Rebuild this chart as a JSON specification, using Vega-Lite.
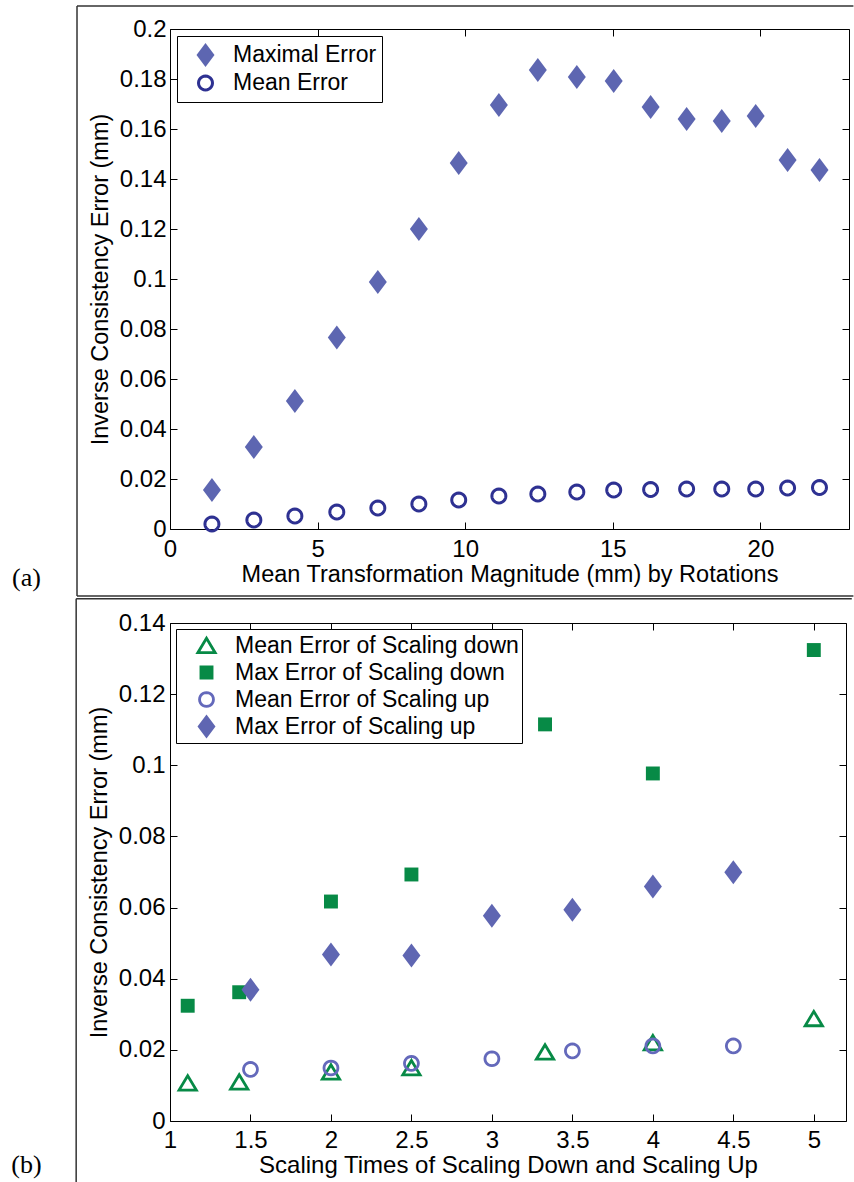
{
  "$schema": "https://vega.github.io/schema/vega-lite/v6.json",
  "padding": {"left": 10, "top": 4, "right": 0, "bottom": 0},
  "background": "white",
  "datasets": {
    "a": [
      {"x": 1.42, "y": 0.0156, "series": "Maximal Error"},
      {"x": 2.84, "y": 0.0328, "series": "Maximal Error"},
      {"x": 4.23, "y": 0.0512, "series": "Maximal Error"},
      {"x": 5.65, "y": 0.0766, "series": "Maximal Error"},
      {"x": 7.04, "y": 0.0988, "series": "Maximal Error"},
      {"x": 8.43, "y": 0.1200, "series": "Maximal Error"},
      {"x": 9.78, "y": 0.1464, "series": "Maximal Error"},
      {"x": 11.14, "y": 0.1696, "series": "Maximal Error"},
      {"x": 12.46, "y": 0.1836, "series": "Maximal Error"},
      {"x": 13.78, "y": 0.1808, "series": "Maximal Error"},
      {"x": 15.03, "y": 0.1792, "series": "Maximal Error"},
      {"x": 16.28, "y": 0.1688, "series": "Maximal Error"},
      {"x": 17.50, "y": 0.1640, "series": "Maximal Error"},
      {"x": 18.69, "y": 0.1632, "series": "Maximal Error"},
      {"x": 19.84, "y": 0.1652, "series": "Maximal Error"},
      {"x": 20.92, "y": 0.1476, "series": "Maximal Error"},
      {"x": 22.00, "y": 0.1436, "series": "Maximal Error"},
      {"x": 1.42, "y": 0.0020, "series": "Mean Error"},
      {"x": 2.84, "y": 0.0036, "series": "Mean Error"},
      {"x": 4.23, "y": 0.0052, "series": "Mean Error"},
      {"x": 5.65, "y": 0.0068, "series": "Mean Error"},
      {"x": 7.04, "y": 0.0084, "series": "Mean Error"},
      {"x": 8.43, "y": 0.0100, "series": "Mean Error"},
      {"x": 9.78, "y": 0.0116, "series": "Mean Error"},
      {"x": 11.14, "y": 0.0132, "series": "Mean Error"},
      {"x": 12.46, "y": 0.0140, "series": "Mean Error"},
      {"x": 13.78, "y": 0.0148, "series": "Mean Error"},
      {"x": 15.03, "y": 0.0156, "series": "Mean Error"},
      {"x": 16.28, "y": 0.0158, "series": "Mean Error"},
      {"x": 17.50, "y": 0.0160, "series": "Mean Error"},
      {"x": 18.69, "y": 0.0160, "series": "Mean Error"},
      {"x": 19.84, "y": 0.0160, "series": "Mean Error"},
      {"x": 20.92, "y": 0.0164, "series": "Mean Error"},
      {"x": 22.00, "y": 0.0166, "series": "Mean Error"}
    ],
    "b": [
      {"x": 1.11, "y": 0.0107, "series": "Mean Error of Scaling down"},
      {"x": 1.43, "y": 0.0110, "series": "Mean Error of Scaling down"},
      {"x": 2.0, "y": 0.0138, "series": "Mean Error of Scaling down"},
      {"x": 2.5, "y": 0.0150, "series": "Mean Error of Scaling down"},
      {"x": 3.33, "y": 0.0194, "series": "Mean Error of Scaling down"},
      {"x": 4.0, "y": 0.0220, "series": "Mean Error of Scaling down"},
      {"x": 5.0, "y": 0.0288, "series": "Mean Error of Scaling down"},
      {"x": 1.11, "y": 0.0324, "series": "Max Error of Scaling down"},
      {"x": 1.43, "y": 0.0362, "series": "Max Error of Scaling down"},
      {"x": 2.0, "y": 0.0617, "series": "Max Error of Scaling down"},
      {"x": 2.5, "y": 0.0693, "series": "Max Error of Scaling down"},
      {"x": 3.33, "y": 0.1115, "series": "Max Error of Scaling down"},
      {"x": 4.0, "y": 0.0977, "series": "Max Error of Scaling down"},
      {"x": 5.0, "y": 0.1324, "series": "Max Error of Scaling down"},
      {"x": 1.5, "y": 0.0145, "series": "Mean Error of Scaling up"},
      {"x": 2.0, "y": 0.0149, "series": "Mean Error of Scaling up"},
      {"x": 2.5, "y": 0.0162, "series": "Mean Error of Scaling up"},
      {"x": 3.0, "y": 0.0175, "series": "Mean Error of Scaling up"},
      {"x": 3.5, "y": 0.0197, "series": "Mean Error of Scaling up"},
      {"x": 4.0, "y": 0.0211, "series": "Mean Error of Scaling up"},
      {"x": 4.5, "y": 0.0211, "series": "Mean Error of Scaling up"},
      {"x": 1.5, "y": 0.0369, "series": "Max Error of Scaling up"},
      {"x": 2.0, "y": 0.0468, "series": "Max Error of Scaling up"},
      {"x": 2.5, "y": 0.0465, "series": "Max Error of Scaling up"},
      {"x": 3.0, "y": 0.0577, "series": "Max Error of Scaling up"},
      {"x": 3.5, "y": 0.0594, "series": "Max Error of Scaling up"},
      {"x": 4.0, "y": 0.0659, "series": "Max Error of Scaling up"},
      {"x": 4.5, "y": 0.0699, "series": "Max Error of Scaling up"}
    ]
  },
  "vconcat": [
    {
      "width": 679,
      "height": 500,
      "layer": [
        {
          "data": {"values": [{}]},
          "mark": {"type": "rule", "color": "#333333", "strokeWidth": 1.5},
          "encoding": {
            "x": {"datum": -3.15, "type": "quantitative", "scale": {"domain": [0, 23], "nice": false, "zero": false},
                  "axis": {"orient": "top", "labels": false, "title": null, "values": [0, 5, 10, 15, 20]}},
            "x2": {"datum": 23.15},
            "y": {"datum": 0.2092, "type": "quantitative", "scale": {"domain": [0, 0.2], "nice": false, "zero": false},
                  "axis": {"orient": "right", "labels": false, "title": null, "values": [0, 0.02, 0.04, 0.06, 0.08, 0.1, 0.12, 0.14, 0.16, 0.18, 0.2]}}
          }
        },
        {
          "data": {"values": [{}]},
          "mark": {"type": "rule", "color": "#333333", "strokeWidth": 1.5},
          "encoding": {
            "x": {"datum": -3.15, "type": "quantitative", "scale": {"domain": [0, 23], "nice": false, "zero": false}, "axis": null},
            "y": {"datum": -0.0268, "type": "quantitative", "scale": {"domain": [0, 0.2], "nice": false, "zero": false}, "axis": null},
            "y2": {"datum": 0.2092}
          }
        },
        {
          "data": {"values": [{}]},
          "mark": {"type": "rule", "color": "#333333", "strokeWidth": 1.5},
          "encoding": {
            "x": {"datum": -3.15, "type": "quantitative", "scale": {"domain": [0, 23], "nice": false, "zero": false}, "axis": null},
            "x2": {"datum": 23.15},
            "y": {"datum": -0.0268, "type": "quantitative", "scale": {"domain": [0, 0.2], "nice": false, "zero": false}, "axis": null}
          }
        },
        {
          "data": {"name": "a"},
          "mark": {"type": "point", "size": 576, "strokeWidth": 3, "opacity": 1},
          "encoding": {
            "x": {"field": "x", "type": "quantitative", "scale": {"domain": [0, 23], "nice": false, "zero": false},
                  "axis": {"values": [0, 5, 10, 15, 20], "format": "~g", "title": "Mean Transformation Magnitude (mm) by Rotations", "labelPadding": 15, "titlePadding": 1}},
            "y": {"field": "y", "type": "quantitative", "scale": {"domain": [0, 0.2], "nice": false, "zero": false},
                  "axis": {"values": [0, 0.02, 0.04, 0.06, 0.08, 0.1, 0.12, 0.14, 0.16, 0.18, 0.2], "format": ".2~f", "title": "Inverse Consistency Error (mm)", "labelPadding": 11, "titlePadding": 7}},
            "shape": {"field": "series", "type": "nominal",
                      "scale": {"domain": ["Maximal Error", "Mean Error"], "range": ["M0,-1L0.75,0L0,1L-0.75,0Z", "M0.583,0L0.5631,0.1509L0.5049,0.2915L0.4122,0.4122L0.2915,0.5049L0.1509,0.5631L0,0.583L-0.1509,0.5631L-0.2915,0.5049L-0.4122,0.4122L-0.5049,0.2915L-0.5631,0.1509L-0.583,0L-0.5631,-0.1509L-0.5049,-0.2915L-0.4122,-0.4122L-0.2915,-0.5049L-0.1509,-0.5631L0,-0.583L0.1509,-0.5631L0.2915,-0.5049L0.4122,-0.4122L0.5049,-0.2915L0.5631,-0.1509Z"]},
                      "legend": {"title": null, "orient": "none", "legendX": 7, "legendY": 7, "strokeColor": "black", "fillColor": "white", "padding": 5, "labelFontSize": 23, "labelFont": "Liberation Sans", "labelColor": "black", "labelLimit": 500, "symbolSize": 576, "symbolStrokeWidth": 3, "symbolOffset": 10, "labelOffset": 14, "rowPadding": 0, "clipHeight": 28, "gridAlign": "all"}},
            "fill": {"field": "series", "type": "nominal",
                     "scale": {"domain": ["Maximal Error", "Mean Error"], "range": ["#5D66B1", "transparent"]},
                     "legend": {"title": null, "orient": "none", "legendX": 7, "legendY": 7, "strokeColor": "black", "fillColor": "white", "padding": 5, "labelFontSize": 23, "labelFont": "Liberation Sans", "labelColor": "black", "labelLimit": 500, "symbolSize": 576, "symbolStrokeWidth": 3, "symbolOffset": 10, "labelOffset": 14, "rowPadding": 0, "clipHeight": 28, "gridAlign": "all"}},
            "stroke": {"field": "series", "type": "nominal",
                       "scale": {"domain": ["Maximal Error", "Mean Error"], "range": ["transparent", "#2E3192"]},
                       "legend": {"title": null, "orient": "none", "legendX": 7, "legendY": 7, "strokeColor": "black", "fillColor": "white", "padding": 5, "labelFontSize": 23, "labelFont": "Liberation Sans", "labelColor": "black", "labelLimit": 500, "symbolSize": 576, "symbolStrokeWidth": 3, "symbolOffset": 10, "labelOffset": 14, "rowPadding": 0, "clipHeight": 28, "gridAlign": "all"}}
          }
        },
        {
          "data": {"values": [{}]},
          "mark": {"type": "text", "text": "(a)", "font": "Liberation Serif", "fontSize": 26, "align": "left", "baseline": "middle", "color": "black"},
          "encoding": {
            "x": {"datum": -5.35, "type": "quantitative", "scale": {"domain": [0, 23], "nice": false, "zero": false}, "axis": null},
            "y": {"datum": -0.0196, "type": "quantitative", "scale": {"domain": [0, 0.2], "nice": false, "zero": false}, "axis": null}
          }
        }
      ],
      "resolve": {"axis": {"x": "independent", "y": "independent"}}
    },
    {
      "width": 676,
      "height": 498,
      "layer": [
        {
          "data": {"values": [{}]},
          "mark": {"type": "rule", "color": "#333333", "strokeWidth": 1.5},
          "encoding": {
            "x": {"datum": 0.417, "type": "quantitative", "scale": {"domain": [1, 5.2], "nice": false, "zero": false},
                  "axis": {"orient": "top", "labels": false, "title": null, "values": [1, 1.5, 2, 2.5, 3, 3.5, 4, 4.5, 5]}},
            "x2": {"datum": 5.236},
            "y": {"datum": 0.1468, "type": "quantitative", "scale": {"domain": [0, 0.14], "nice": false, "zero": false},
                  "axis": {"orient": "right", "labels": false, "title": null, "values": [0, 0.02, 0.04, 0.06, 0.08, 0.1, 0.12, 0.14]}}
          }
        },
        {
          "data": {"values": [{}]},
          "mark": {"type": "rule", "color": "#333333", "strokeWidth": 1.5},
          "encoding": {
            "x": {"datum": 0.417, "type": "quantitative", "scale": {"domain": [1, 5.2], "nice": false, "zero": false}, "axis": null},
            "y": {"datum": -0.0175, "type": "quantitative", "scale": {"domain": [0, 0.14], "nice": false, "zero": false}, "axis": null},
            "y2": {"datum": 0.1468}
          }
        },
        {
          "data": {"name": "b"},
          "mark": {"type": "point", "size": 576, "strokeWidth": 2.8, "opacity": 1},
          "encoding": {
            "x": {"field": "x", "type": "quantitative", "scale": {"domain": [1, 5.2], "nice": false, "zero": false},
                  "axis": {"values": [1, 1.5, 2, 2.5, 3, 3.5, 4, 4.5, 5], "format": "~g", "title": "Scaling Times of Scaling Down and Scaling Up", "labelPadding": 14, "titlePadding": 1, "titleFontSize": 24}},
            "y": {"field": "y", "type": "quantitative", "scale": {"domain": [0, 0.14], "nice": false, "zero": false},
                  "axis": {"values": [0, 0.02, 0.04, 0.06, 0.08, 0.1, 0.12, 0.14], "format": ".2~f", "title": "Inverse Consistency Error (mm)", "labelPadding": 12, "titlePadding": 7}},
            "shape": {"field": "series", "type": "nominal",
                      "scale": {"domain": ["Mean Error of Scaling down", "Max Error of Scaling down", "Mean Error of Scaling up", "Max Error of Scaling up"],
                                "range": ["M0,-0.6L0.72,0.6L-0.72,0.6Z", "M-0.58,-0.58L0.58,-0.58L0.58,0.58L-0.58,0.58Z", "M0.58,0L0.5602,0.1501L0.5023,0.29L0.4101,0.4101L0.29,0.5023L0.1501,0.5602L0,0.58L-0.1501,0.5602L-0.29,0.5023L-0.4101,0.4101L-0.5023,0.29L-0.5602,0.1501L-0.58,0L-0.5602,-0.1501L-0.5023,-0.29L-0.4101,-0.4101L-0.29,-0.5023L-0.1501,-0.5602L0,-0.58L0.1501,-0.5602L0.29,-0.5023L0.4101,-0.4101L0.5023,-0.29L0.5602,-0.1501Z", "M0,-1L0.75,0L0,1L-0.75,0Z"]},
                      "legend": {"title": null, "orient": "none", "legendX": 6, "legendY": 6, "strokeColor": "black", "fillColor": "white", "padding": 3, "labelFontSize": 23, "labelFont": "Liberation Sans", "labelColor": "black", "labelLimit": 500, "symbolSize": 576, "symbolStrokeWidth": 2.8, "symbolOffset": 14, "labelOffset": 15, "rowPadding": 0, "clipHeight": 27, "gridAlign": "all"}},
            "fill": {"field": "series", "type": "nominal",
                     "scale": {"domain": ["Mean Error of Scaling down", "Max Error of Scaling down", "Mean Error of Scaling up", "Max Error of Scaling up"],
                               "range": ["transparent", "#078A46", "transparent", "#5F66B2"]},
                     "legend": {"title": null, "orient": "none", "legendX": 6, "legendY": 6, "strokeColor": "black", "fillColor": "white", "padding": 3, "labelFontSize": 23, "labelFont": "Liberation Sans", "labelColor": "black", "labelLimit": 500, "symbolSize": 576, "symbolStrokeWidth": 2.8, "symbolOffset": 14, "labelOffset": 15, "rowPadding": 0, "clipHeight": 27, "gridAlign": "all"}},
            "stroke": {"field": "series", "type": "nominal",
                       "scale": {"domain": ["Mean Error of Scaling down", "Max Error of Scaling down", "Mean Error of Scaling up", "Max Error of Scaling up"],
                                 "range": ["#078A46", "transparent", "#6469BB", "transparent"]},
                       "legend": {"title": null, "orient": "none", "legendX": 6, "legendY": 6, "strokeColor": "black", "fillColor": "white", "padding": 3, "labelFontSize": 23, "labelFont": "Liberation Sans", "labelColor": "black", "labelLimit": 500, "symbolSize": 576, "symbolStrokeWidth": 2.8, "symbolOffset": 14, "labelOffset": 15, "rowPadding": 0, "clipHeight": 27, "gridAlign": "all"}}
          }
        },
        {
          "data": {"values": [{}]},
          "mark": {"type": "text", "text": "(b)", "font": "Liberation Serif", "fontSize": 26, "align": "left", "baseline": "middle", "color": "black"},
          "encoding": {
            "x": {"datum": 0.0137, "type": "quantitative", "scale": {"domain": [1, 5.2], "nice": false, "zero": false}, "axis": null},
            "y": {"datum": -0.0124, "type": "quantitative", "scale": {"domain": [0, 0.14], "nice": false, "zero": false}, "axis": null}
          }
        }
      ],
      "resolve": {"axis": {"x": "independent", "y": "independent"}}
    }
  ],
  "spacing": 94,
  "bounds": "flush",
  "resolve": {
    "scale": {"x": "independent", "y": "independent", "shape": "independent", "fill": "independent", "stroke": "independent"},
    "axis": {"x": "independent", "y": "independent"},
    "legend": {"shape": "independent", "fill": "independent", "stroke": "independent"}
  },
  "config": {
    "font": "Liberation Sans",
    "view": {"stroke": "black", "strokeWidth": 1},
    "axis": {
      "grid": false, "domain": false,
      "labelFontSize": 24, "titleFontSize": 23.5,
      "labelFont": "Liberation Sans", "titleFont": "Liberation Sans",
      "labelColor": "black", "titleColor": "black", "titleFontWeight": "normal",
      "tickColor": "black", "tickSize": -7, "tickWidth": 1,
      "labelFlush": false, "labelOverlap": false
    }
  }
}
